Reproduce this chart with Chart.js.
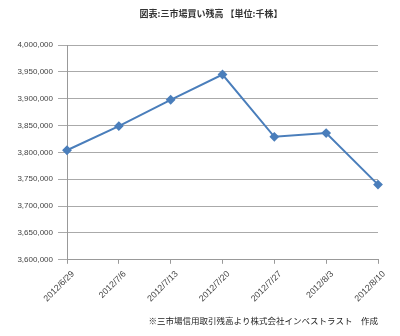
<!DOCTYPE html>
<html><head><meta charset="utf-8">
<script src="https://cdn.jsdelivr.net/npm/chart.js@4"></script>
<style>html,body{margin:0;padding:0;background:#fff}#wrap{width:400px;height:336px}</style>
</head><body><div id="wrap"><canvas id="c" width="400" height="336"></canvas></div>
<script>
const categories = ["2012/6/29","2012/7/6","2012/7/13","2012/7/20","2012/7/27","2012/8/3","2012/8/10"];
const balance = [3804000, 3849000, 3898000, 3945000, 3829000, 3836000, 3740000];
const titleText = "図表:三市場買い残高 【単位:千株】";
const sourceText = "※三市場信用取引残高より株式会社インベストラスト　作成";
const yMin = 3600000, yMax = 4000000, yStep = 50000;

const cjk = "'Noto Sans CJK JP', 'Noto Sans', sans-serif";
const titlePlugin = {
  id: 'topTitle',
  afterDraw(chart) {
    const ctx = chart.ctx;
    ctx.save();
    ctx.font = "bold 9px " + cjk;
    ctx.fillStyle = '#333';
    ctx.textAlign = 'center';
    ctx.textBaseline = 'middle';
    ctx.fillText(titleText, 211, 14);
    ctx.restore();
  }
};
new Chart(document.getElementById('c'), {
  type: 'line',
  data: { labels: categories, datasets: [{
    data: balance, borderColor: '#4a7ebb', backgroundColor: '#4a7ebb',
    borderWidth: 2, pointStyle: 'rectRot', pointRadius: 3.5, tension: 0, fill: false
  }]},
  plugins: [titlePlugin],
  options: {
    responsive: false, animation: false,
    layout: { padding: { left: 0, right: 22, top: 45, bottom: 0 } },
    plugins: {
      legend: { display: false }, tooltip: { enabled: false },
      title: { display: false },
      subtitle: { display: true, text: sourceText, position: 'bottom', align: 'end', color: '#222', font: { family: cjk, size: 8.5 }, padding: { top: 4, bottom: 10 } }
    },
    scales: {
      x: { offset: false,
        afterFit: s => { s.height = 52; },
        grid: { drawOnChartArea: false, drawTicks: true, tickLength: 4, color: '#999' },
        border: { color: '#999' },
        ticks: { color: '#444', font: { family: "'Liberation Sans', sans-serif", size: 8.8 }, maxRotation: 45, minRotation: 45, padding: 5, labelOffset: 6 } },
      y: { min: yMin, max: yMax,
        afterFit: s => { s.width = 67; },
        grid: { color: '#aaa', tickLength: 9, drawTicks: true },
        border: { color: '#999' },
        ticks: { stepSize: yStep, color: '#444', padding: 5, font: { family: "'Liberation Sans', sans-serif", size: 8 },
          callback: v => v.toLocaleString('en-US') } }
    }
  }
});
</script></body></html>
